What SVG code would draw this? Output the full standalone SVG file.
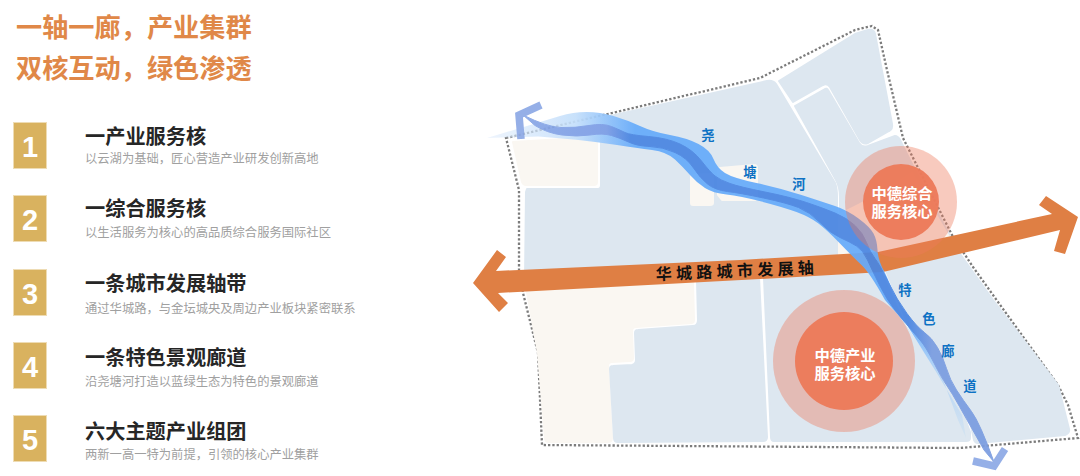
<svg xmlns="http://www.w3.org/2000/svg" width="1080" height="476" viewBox="0 0 1080 476">
<style>
text{font-family:"Noto Sans CJK SC","Liberation Sans",sans-serif}
.title{font-size:26.2px;font-weight:700;fill:#e08848}
.num{font-family:"Liberation Sans",sans-serif;font-size:29px;font-weight:700;fill:#fff;text-anchor:middle}
.box{fill:#d9b25f;stroke:#eedcb4;stroke-width:1}
.h{font-size:20.2px;font-weight:700;fill:#262626}
.s{font-size:12.3px;fill:#a0a0a0}
.blk{fill:#dde7f0;stroke:#dde7f0;stroke-width:2;stroke-linejoin:round}
.crm{fill:#faf7f2;stroke:#faf7f2;stroke-width:2;stroke-linejoin:round}
.lbl{font-size:13.3px;font-weight:700;fill:#0e72c4;text-anchor:middle}
.ct{font-size:15.3px;font-weight:700;fill:#fff;text-anchor:middle}
.outer{fill:#ee7a5c;opacity:.4}
.inner{fill:#ec7a5a;opacity:.96}
</style>
<defs>
<linearGradient id="gL" gradientUnits="userSpaceOnUse" x1="487" y1="0" x2="635" y2="0">
<stop offset="0" stop-color="#dbeafb" stop-opacity=".5"/><stop offset=".6" stop-color="#c4dffb"/><stop offset="1" stop-color="#66abfa"/>
</linearGradient>
<linearGradient id="gP" gradientUnits="userSpaceOnUse" x1="0" y1="320" x2="0" y2="435">
<stop offset="0" stop-color="#66abfa"/><stop offset=".45" stop-color="#b4d5f6"/><stop offset="1" stop-color="#d3e3f2"/>
</linearGradient>
<linearGradient id="gD" gradientUnits="userSpaceOnUse" x1="515" y1="0" x2="995" y2="0">
<stop offset="0" stop-color="#8aa8e6"/><stop offset=".19" stop-color="#7c9de6"/><stop offset=".24" stop-color="#4a86e2"/><stop offset=".82" stop-color="#4a86e2"/><stop offset=".87" stop-color="#7b9de0"/><stop offset="1" stop-color="#7b9de0"/>
</linearGradient>
</defs>

<g id="heading">
<text class="title" x="16" y="37">一轴一廊，产业集群</text>
<text class="title" x="16" y="78">双核互动，绿色渗透</text>
</g>

<g id="item1"><rect class="box" x="13.5" y="122.5" width="33" height="46"/><text class="num" x="30" y="157">1</text><text class="h" x="85" y="143.5">一产业服务核</text><text class="s" x="85" y="162.5">以云湖为基础，匠心营造产业研发创新高地</text></g>
<g id="item2"><rect class="box" x="13.5" y="195.5" width="33" height="46"/><text class="num" x="30" y="230">2</text><text class="h" x="85" y="216">一综合服务核</text><text class="s" x="85" y="237">以生活服务为核心的高品质综合服务国际社区</text></g>
<g id="item3"><rect class="box" x="13.5" y="269.5" width="33" height="46"/><text class="num" x="30" y="303.5">3</text><text class="h" x="85" y="291">一条城市发展轴带</text><text class="s" x="85" y="312.5">通过华城路，与金坛城央及周边产业板块紧密联系</text></g>
<g id="item4"><rect class="box" x="13.5" y="342.5" width="33" height="46"/><text class="num" x="30" y="377">4</text><text class="h" x="85" y="364.5">一条特色景观廊道</text><text class="s" x="85" y="385.5">沿尧塘河打造以蓝绿生态为特色的景观廊道</text></g>
<g id="item5"><rect class="box" x="13.5" y="415.5" width="33" height="46"/><text class="num" x="30" y="450">5</text><text class="h" x="85" y="438.5">六大主题产业组团</text><text class="s" x="85" y="459">两新一高一特为前提，引领的核心产业集群</text></g>

<g id="map">
<path id="boundary" d="M506,138 L760,78 L855,30 L872,26 L878,30 L887,70 L903,138 L952,235 L973,267 L998,302 L1058,385 L1068,405 L1078,438 L960,448 L542,445 L538,353 L523,293 L519,270 L519,190 Z" fill="none" stroke="#7c7c7c" stroke-width="2.3" stroke-dasharray="2.3 2"/>
<path class="crm" d="M513,142 L597,137 L597,182 Q597,185 594,185 L526,185 Q523,185 522,182 Z"/>
<path class="blk" d="M527,189 L598,189 Q601,189 601,185 L601,118 L767,81 Q773,80 776,84 L835,183 Q837,188 837,197 L837,262 L525,280 L526,192 Z"/>
<path class="crm" d="M691,177 Q691,175 693,175 L713,174 L713,203 Q713,205 710,205 L693,205 Q691,205 691,203 Z" stroke="#fff"/>
<path class="crm" d="M718,170 Q718,168 720,168 L754,165 Q757,165 757,168 L757,197 Q757,200 754,200 L722,200 L718,195 Z" stroke="#fff"/>
<path class="blk" d="M779,81 L855,34 L868,30 Q874,29 875,34 L892,124 Q893,129 889,131 L868,143 Q863,145 860,140 L830,87 Q827,83 823,85 L793,102 Z"/>
<path class="blk" d="M795,106 L825,89 Q827,88 828,90 L859,143 Q862,148 868,146 L895,136 Q898,136 900,140 L916,172 L952,240 L880,262 L840,262 L840,197 Q840,187 836,180 Z"/>
<path d="M838,214 Q880,194 912,172 L952,240 L880,268 L838,255 Z" fill="#fbf6f0"/>
<path class="crm" d="M527,292 L693,283 L694,320 Q694,323 691,323 L636,327 Q632,327 632,331 L633,358 Q633,361 630,361 L612,362 Q608,362 608,366 L612,438 Q612,442 608,442 L549,442 Q545,442 545,438 L538,353 Z"/>
<path class="blk" d="M697,280 L759,277 L767,437 Q767,441 763,441 L618,442 Q614,442 614,438 L610,369 Q610,366 613,366 L632,365 Q636,364 636,360 L635,333 Q635,330 638,330 L693,326 Q698,326 698,320 Z"/>
<path class="blk" d="M764,278 L880,270 L905,325 L935,370 L960,405 L970,432 L970,438 Q970,441 966,441 L774,441 Q771,441 771,437 Z"/>
<path class="blk" d="M885,268 L950,240 L993,300 L1058,385 L1069,429 Q1070,433 1065,435 L978,443 Q975,443 974,440 L970,420 L938,368 L907,322 Z"/>
</g>

<g id="connectors">
<path id="axis" d="M473,283 L497,250 L506,257 L496,271 L740,260 L878,252 L1052,214 L1039,205 L1046,196 L1078,217 L1065,254 L1054,251 L1060,230 L883,272 L760,279 L498,293 L508,303 L499,312 Z" fill="#df7f44"/>
<g id="river" opacity=".93">
<path fill="url(#gL)" d="M487,138 L560,116 Q573,112 586.5,112 Q600,112 613.5,116 Q627,120 640,126 Q653,132 670,135 Q687,138 698.5,144 Q710,150 713.5,159 Q717,168 725,173 Q733,178 756.5,183 Q780,188 801.5,195 Q823,202 835,206 Q847,210 858.5,218.5 Q870,227 873.5,233.5 Q877,240 877.5,250 Q878,260 884,271 Q890,282 905,323 L885,300 Q870,273 861.5,265 Q853,257 840,243.5 Q827,230 818.5,223.5 Q810,217 796.5,212 Q783,207 761.5,201.5 Q740,196 726.5,194.5 Q713,193 705,188 Q697,183 690,175 Q683,167 675,159.5 Q667,152 652,150 Q637,148 617,145 Q597,142 578.5,140 Q560,138 538.5,136.5 Z"/>
<path fill="url(#gP)" d="M880,280 L905,322 L935,370 L962,415 L966,438 L958,420 L945,385 L930,350 L900,315 Z"/>
<path fill="url(#gD)" stroke="url(#gD)" stroke-width="1" stroke-linejoin="round" d="M523,115 Q547,127 561,127.5 Q575,128 589,125.5 Q603,123 611.5,126.5 Q620,130 625,132.5 Q630,135 648.5,136.5 Q667,138 680,144 Q693,150 701.5,161 Q710,172 715,176 Q720,180 730,183.5 Q740,187 765,192 Q790,197 806.5,202.5 Q823,208 835,213 Q847,218 855,225.5 Q863,233 866.5,242.5 Q870,252 875,258.5 Q880,265 888.5,282.5 Q897,300 907,313.5 Q917,327 924.5,332.5 Q932,338 937.5,347.5 Q943,357 946.5,368.5 Q950,380 956.5,390 Q963,400 971.5,411.5 Q980,423 994,462 L984,450 Q967,420 959.5,406.5 Q952,393 946.5,385 Q941,377 933.5,362 Q926,347 920,340 Q914,333 908.5,326.5 Q903,320 895,310 Q887,300 879.5,285 Q872,270 867.5,260 Q863,250 856.5,246 Q850,242 840,237.5 Q830,233 820,222.5 Q810,212 798.5,207.5 Q787,203 763.5,198 Q740,193 727.5,191.5 Q715,190 707.5,184 Q700,178 693.5,168 Q687,158 675,152.5 Q663,147 650,146.5 Q637,146 628.5,142 Q620,138 611.5,135.5 Q603,133 590,135 Q577,137 562,135 Q547,133 535,125.5 Z"/>
<path d="M541,105 L519,115 L521,139" fill="none" stroke="#8eaae6" stroke-width="7.5"/>
<path d="M973,461 L994,466 L1005,449" fill="none" stroke="#8eaae6" stroke-width="7.5"/>
</g>
</g>

<g id="core-north">
<circle class="outer" cx="901" cy="202" r="56"/>
<circle class="inner" cx="901" cy="202" r="38"/>
<text class="ct"><tspan x="902" y="198.5">中德综合</tspan><tspan x="902" y="216.5">服务核心</tspan></text>
</g>
<g id="core-south">
<circle class="outer" cx="844" cy="361" r="71"/>
<circle class="inner" cx="844" cy="361" r="49"/>
<text class="ct"><tspan x="845" y="360.5">中德产业</tspan><tspan x="845" y="378.5">服务核心</tspan></text>
</g>

<g id="labels">
<text x="656" y="280" transform="rotate(-2.4 656 280)" font-size="16" font-weight="700" fill="#111" letter-spacing="4.3">华城路城市发展轴</text>
<text class="lbl" x="708" y="140">尧</text>
<text class="lbl" x="750" y="177">塘</text>
<text class="lbl" x="799" y="189">河</text>
<text class="lbl" x="905" y="295">特</text>
<text class="lbl" x="929" y="324">色</text>
<text class="lbl" x="948" y="356">廊</text>
<text class="lbl" x="970" y="391">道</text>
</g>
</svg>
